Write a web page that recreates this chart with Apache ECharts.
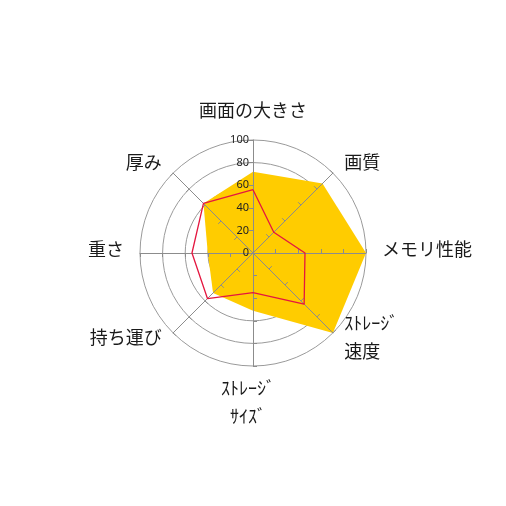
<!DOCTYPE html>
<html>
<head>
<meta charset="utf-8">
<script src="https://cdn.jsdelivr.net/npm/echarts@6/dist/echarts.min.js"></script>
<style>html,body{margin:0;padding:0;background:#fff}#c{width:506px;height:506px}</style>
</head>
<body>
<div id="c"></div>
<script>
// indicators listed clockwise from top
const categories = ['画面の大きさ', '画質', 'メモリ性能', 'ｽﾄﾚｰｼﾞ\n速度', 'ｽﾄﾚｰｼﾞ\nｻｲｽﾞ', '持ち運び', '重さ', '厚み'];
const yellowValues = [72, 87, 100, 100, 51, 50, 40, 62];
const redValues = [56, 26, 46, 64, 35, 57, 54, 62];
const tickLabels = ['0', '20', '40', '60', '80', '100'];
const axisMax = 100;

// ECharts radar lays indicators counter-clockwise; reorder
function ccw(arr) { return [arr[0]].concat(arr.slice(1).reverse()); }

// per-label placement tweaks (by clockwise index)
const nameTweaks = {
  4: { nameGap: 8, nameTextStyle: { padding: [0, 10, 0, 0] } }
};
// extra spacer (px) below middle-aligned labels to lift them
const liftSpacer = { 2: 8, 3: 14, 5: 14, 6: 8 };
const liftByName = {};
Object.keys(liftSpacer).forEach(k => { liftByName[categories[k]] = liftSpacer[k]; });

const fontCJK = '"Noto Sans CJK JP", "Noto Sans", sans-serif';
const indicatorsCW = categories.map((n, i) => Object.assign({ name: n, max: axisMax, min: 0 }, nameTweaks[i] || {}));
const indicatorsBase = ccw(indicatorsCW);
const indicatorsTop = ccw(categories.map(() => null)).map((_, i) => i === 0
  ? { name: '', max: axisMax, min: 0, axisLabel: { show: true } }
  : { name: '', max: axisMax, min: 0 });

const nameFont = { color: '#1a1a1a', fontSize: 18, fontFamily: fontCJK, lineHeight: 28 };
const richStyles = { a: Object.assign({}, nameFont) };
[8, 14].forEach(h => { richStyles['s' + h] = { fontSize: 2, lineHeight: h, fontFamily: fontCJK }; });

const chart = echarts.init(document.getElementById('c'), null, { renderer: 'canvas' });
chart.setOption({
  animation: false,
  radar: [
    {
      center: ['50%', '50%'],
      radius: 113,
      shape: 'circle',
      splitNumber: 5,
      indicator: indicatorsBase,
      axisName: Object.assign({}, nameFont, {
        formatter: function (name) {
          const h = liftByName[name];
          if (h) {
            return name.split('\n').map(s => '{a|' + s + '}').join('\n') + '\n{s' + h + '| }';
          }
          return name;
        },
        rich: richStyles
      }),
      nameGap: 16,
      axisLine: { show: false },
      axisTick: { show: false },
      axisLabel: { show: false },
      splitLine: { lineStyle: { color: '#9a9a9a', width: 1 } },
      splitArea: { show: false },
      z: 1
    },
    {
      center: ['50%', '50%'],
      radius: 113,
      shape: 'circle',
      splitNumber: 5,
      indicator: indicatorsTop,
      axisName: { show: false },
      axisLine: { show: true, lineStyle: { color: '#8c8c8c', width: 1 } },
      axisTick: { show: true, length: 4, lineStyle: { color: '#8c8c8c' } },
      axisLabel: {
        show: false,
        color: '#222',
        fontSize: 11,
        fontFamily: '"Noto Sans", sans-serif',
        margin: 4,
        formatter: function (v) { return tickLabels[Math.round(v / 20)] || ''; }
      },
      splitLine: { show: false },
      splitArea: { show: false },
      z: 10
    }
  ],
  series: [
    {
      type: 'radar',
      radarIndex: 0,
      z: 5,
      symbol: 'none',
      lineStyle: { width: 0, color: '#FFCC00' },
      areaStyle: { color: '#FFCC00', opacity: 1 },
      data: [{ value: ccw(yellowValues) }]
    },
    {
      type: 'radar',
      radarIndex: 0,
      z: 12,
      symbol: 'none',
      lineStyle: { width: 1.3, color: '#E4163F' },
      data: [{ value: ccw(redValues) }]
    }
  ]
});
</script>
</body>
</html>
